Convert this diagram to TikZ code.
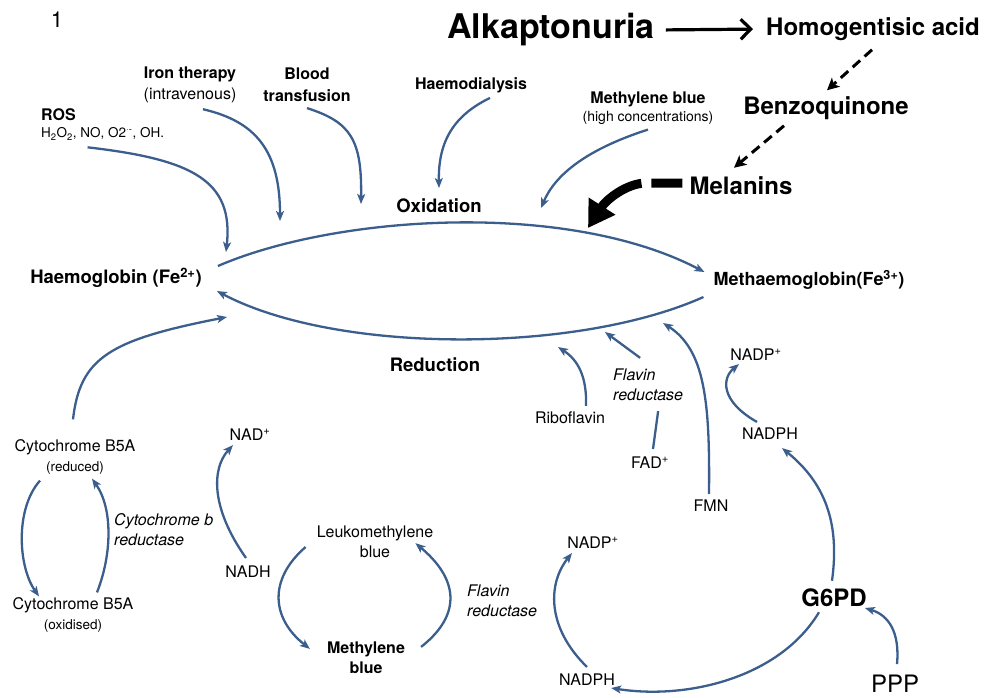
\documentclass[tikz,border=0pt]{standalone}
\usepackage{fontspec}
\setmainfont{TeX Gyre Heros}
\usepackage{tikz}
\usetikzlibrary{arrows.meta,calc}
\definecolor{hblue}{RGB}{59,94,140}
\tikzset{big/.style={font=\fontsize{34}{40}\selectfont\bfseries,inner sep=1pt},
hdr/.style={font=\fontsize{24}{28}\selectfont\bfseries,inner sep=1pt},
mn/.style={font=\fontsize{18.5}{22}\selectfont\bfseries,inner sep=1pt},
lb/.style={font=\fontsize{16}{20}\selectfont,align=center,inner sep=1pt},
blb/.style={font=\fontsize{16}{21}\selectfont\bfseries,align=center,inner sep=1pt},
ilb/.style={font=\fontsize{16}{20}\selectfont\itshape,align=left,inner sep=1pt},
sm/.style={font=\fontsize{13.5}{16}\selectfont,inner sep=1pt},
ar/.style={hblue,line width=2.3pt,-{Stealth[length=10pt,width=8pt,inset=2.5pt]}},
ln/.style={hblue,line width=2.3pt},
dsh/.style={line width=3pt,dash pattern=on 10pt off 6pt,-{Stealth[length=12pt,width=12pt,inset=3pt]}}}
\newcommand{\smtxt}{\fontsize{13.5}{16}\selectfont}
\begin{document}
\begin{tikzpicture}[x=1pt,y=-1pt]
\useasboundingbox (0,0) rectangle (1000,697);
\node[font=\fontsize{22}{24}\selectfont] (one) at (57,20) {1};
\node[big] (alk) at (551,30) {Alkaptonuria};
\node[hdr] (hga) at (873,29) {Homogentisic acid};
\node[hdr] (bq) at (826,108) {Benzoquinone};
\node[hdr] (mel) at (741,186) {Melanins};
\node[blb,anchor=west] (ros) at (40,115) {ROS};
\node[sm,anchor=west] (ros2) at (40,134) {H\textsubscript{2}O\textsubscript{2}, NO, O2\textsuperscript{·-}, OH.};
\node[lb,font=\fontsize{16}{21}\selectfont] (iron) at (190,85) {\textbf{Iron therapy}\\(intravenous)};
\node[blb,font=\fontsize{16}{22}\selectfont\bfseries] (blood) at (307,85) {Blood\\transfusion};
\node[blb] (hd) at (471,85) {Haemodialysis};
\node[lb,font=\fontsize{16}{18}\selectfont] (mbh) at (648,108) {\textbf{Methylene blue}\\{\fontsize{14}{16}\selectfont(high concentrations)}};
\node[mn] (oxi) at (439,206) {Oxidation};
\node[mn] (hb) at (116,278) {Haemoglobin (Fe\textsuperscript{2+})};
\node[mn,font=\fontsize{18}{22}\selectfont\bfseries] (mhb) at (809,280) {Methaemoglobin(Fe\textsuperscript{3+})};
\node[mn] (red) at (435,365) {Reduction};
\node[lb] (cr) at (75,457) {Cytochrome B5A\\{\smtxt(reduced)}};
\node[lb] (co) at (73,615) {Cytochrome B5A\\{\smtxt(oxidised)}};
\node[ilb,anchor=west] (cbr) at (113,530) {Cytochrome b\\reductase};
\node[lb] (nad) at (250,435) {NAD\textsuperscript{+}};
\node[lb] (nadh) at (248,572) {NADH};
\node[lb] (lmb) at (375,542) {Leukomethylene\\blue};
\node[blb,font=\fontsize{16}{20}\selectfont\bfseries] (mbb) at (366,658) {Methylene\\blue};
\node[ilb,anchor=west] (fr2) at (466,601) {Flavin\\reductase};
\node[lb] (npp2) at (593,543) {NADP\textsuperscript{+}};
\node[lb] (np2) at (587,680) {NADPH};
\node[hdr] (g6pd) at (834,598) {G6PD};
\node[hdr,font=\fontsize{24}{28}\selectfont] (ppp) at (895,684) {PPP};
\node[lb] (rib) at (570,418) {Riboflavin};
\node[ilb,anchor=west] (fr1) at (612,385) {Flavin\\reductase};
\node[lb] (fad) at (650,463) {FAD\textsuperscript{+}};
\node[lb] (fmn) at (711,506) {FMN};
\node[lb] (npp1) at (756,355) {NADP\textsuperscript{+}};
\node[lb] (np1) at (770,434) {NADPH};
\coordinate (o1) at (226,252);
\coordinate (o2) at (280,221);
\coordinate (o3) at (361,204);
\coordinate (o4) at (439,188);
\coordinate (o5) at (541,208);
\coordinate (o6) at (588,228);
\coordinate (r0) at (227,317);
\coordinate (r1) at (558,347);
\coordinate (r2) at (605,332);
\coordinate (r3) at (663,323);
\draw[line width=3.2pt,shorten <=10pt,shorten >=12pt,-{Straight Barb[length=10pt,width=20pt]}] (alk.east) -- (hga.west);
\draw[dsh] ([xshift=-1pt,yshift=-8pt]hga.south) -- ([xshift=1pt,yshift=5pt]bq.north);
\draw[dsh] ([xshift=-42pt,yshift=-5pt]bq.south) -- ([xshift=-7pt,yshift=8pt]mel.north);
\draw[line width=9pt,dash pattern=on 31pt off 10pt on 200pt off 1pt,-{Triangle[length=26pt,width=30pt]}] ([xshift=-6pt,yshift=3pt]mel.west) -- ++(-36,0) .. controls +(-20,0) and +(18,-28) .. (o6);
\draw[ar] ([xshift=15pt,yshift=12pt]hb.east) .. controls +(118,-51) and +(-138,-72) .. ([xshift=-8pt,yshift=8pt]mhb.west);
\draw[ar] ([xshift=-9pt,yshift=-17pt]mhb.west) .. controls +(-127,57) and +(119,63) .. ([xshift=14pt,yshift=-13pt]hb.east);
\draw[ar] ([xshift=-15pt,yshift=-6pt]ros2.south) .. controls +(104,12) and +(8,-72) .. (o1);
\draw[ar] ([xshift=13pt,yshift=-5pt]iron.south) .. controls +(52,12) and +(0,-71) .. (o2);
\draw[ar] ([yshift=-5pt]blood.south) .. controls +(44,14) and +(1,-64) .. (o3);
\draw[ar] ([xshift=19pt,yshift=-4pt]hd.south) .. controls +(-35,17) and +(-1,-48) .. (o4);
\draw[ar] ([yshift=-4pt]mbh.south) .. controls +(-62,20) and +(14,-33) .. (o5);
\draw[ar] ([xshift=-2pt,yshift=19pt]cr.north) .. controls +(7,-62) and +(-117,23) .. (r0);
\draw[ar] ([xshift=-35pt,yshift=-5pt]cr.south) .. controls +(-25,28) and +(-21,-30) .. ([xshift=-34pt]co.north);
\draw[ar] ([xshift=24pt,yshift=4pt]co.north) .. controls +(15,-38) and +(21,30) .. ([xshift=17pt,yshift=-3pt]cr.south);
\draw[ar] ([xshift=-2pt,yshift=7pt]nadh.north) .. controls +(-36,-51) and +(-21,23) .. ([xshift=-17pt,yshift=-3pt]nad.south);
\draw[ar] ([xshift=-10pt,yshift=-5pt]lmb.west) .. controls +(-38,33) and +(-38,-30) .. ([xshift=-16pt,yshift=-8pt]mbb.north west);
\draw[ar] ([xshift=15pt,yshift=-6pt]mbb.north east) .. controls +(42,-33) and +(42,35) .. ([xshift=-19pt,yshift=16pt]lmb.south east);
\draw[ar] ([xshift=16pt,yshift=5pt]rib.north) .. controls +(1,-29) and +(20,13) .. (r1);
\draw[ar] ([xshift=-8pt,yshift=10pt]fr1.north) -- (r2);
\draw[ln] ([xshift=10pt,yshift=-9pt]fr1.south) -- ([xshift=3pt,yshift=7pt]fad.north);
\draw[ar] ([xshift=-2pt,yshift=5pt]fmn.north) .. controls +(1,-92) and +(42,27) .. (r3);
\draw[ar] ([xshift=-13pt,yshift=5pt]np1.north) .. controls +(-37,-21) and +(-17,14) .. ([xshift=-17pt,yshift=-2pt]npp1.south);
\draw[ar] ([xshift=-2pt,yshift=7pt]g6pd.north) .. controls +(8,-58) and +(43,35) .. ([xshift=12pt,yshift=-7pt]np1.south);
\draw[ar] ([xshift=-15pt,yshift=-4pt]g6pd.south) .. controls +(-39,65) and +(77,12) .. ([xshift=-5pt,yshift=-8pt]np2.east);
\draw[ar] ([yshift=6pt]np2.north) .. controls +(-41,-40) and +(-24,30) .. ([xshift=-21pt,yshift=-3pt]npp2.south);
\draw[ar] ([xshift=2pt,yshift=10pt]ppp.north) .. controls +(3,-33) and +(23,7) .. ([xshift=-3pt,yshift=-10pt]g6pd.east);
\end{tikzpicture}
\end{document}
